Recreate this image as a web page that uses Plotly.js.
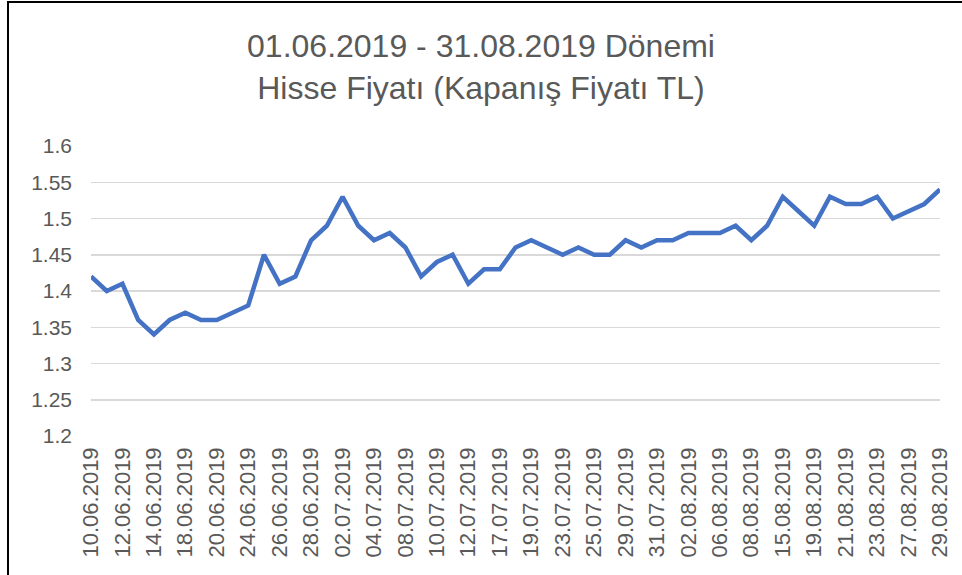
<!DOCTYPE html>
<html>
<head>
<meta charset="utf-8">
<script src="https://cdn.plot.ly/plotly-3.0.1.min.js"></script>
<style>
  html, body { margin: 0; padding: 0; background: #fff; }
  #wrap { position: relative; width: 962px; height: 575px; overflow: hidden; }
  #chart { position: absolute; left: 0; top: 0; width: 962px; height: 575px; }
  #frame { position: absolute; left: 7px; top: 1px; width: 970px; height: 600px;
           border-top: 2px solid #000; border-left: 2px solid #000; pointer-events: none; }
</style>
</head>
<body>
<div id="wrap">
  <div id="chart"></div>
  <div id="frame"></div>
</div>
<script>
const dates = [
  "10.06.2019","11.06.2019","12.06.2019","13.06.2019","14.06.2019","17.06.2019","18.06.2019","19.06.2019","20.06.2019","21.06.2019",
  "24.06.2019","25.06.2019","26.06.2019","27.06.2019","28.06.2019","01.07.2019","02.07.2019","03.07.2019","04.07.2019","05.07.2019",
  "08.07.2019","09.07.2019","10.07.2019","11.07.2019","12.07.2019","16.07.2019","17.07.2019","18.07.2019","19.07.2019","22.07.2019",
  "23.07.2019","24.07.2019","25.07.2019","26.07.2019","29.07.2019","30.07.2019","31.07.2019","01.08.2019","02.08.2019","05.08.2019",
  "06.08.2019","07.08.2019","08.08.2019","09.08.2019","15.08.2019","16.08.2019","19.08.2019","20.08.2019","21.08.2019","22.08.2019",
  "23.08.2019","26.08.2019","27.08.2019","28.08.2019","29.08.2019"
];
const closePrices = [
  1.42,1.40,1.41,1.36,1.34,1.36,1.37,1.36,1.36,1.37,
  1.38,1.45,1.41,1.42,1.47,1.49,1.53,1.49,1.47,1.48,
  1.46,1.42,1.44,1.45,1.41,1.43,1.43,1.46,1.47,1.46,
  1.45,1.46,1.45,1.45,1.47,1.46,1.47,1.47,1.48,1.48,
  1.48,1.49,1.47,1.49,1.53,1.51,1.49,1.53,1.52,1.52,
  1.53,1.50,1.51,1.52,1.54
];
const yTicks = [1.2,1.25,1.3,1.35,1.4,1.45,1.5,1.55,1.6];
const yTickText = ["1.2","1.25","1.3","1.35","1.4","1.45","1.5","1.55","1.6"];
const xTickLabels = dates.filter((d, i) => i % 2 === 0);

const titleText = "01.06.2019 - 31.08.2019 Dönemi<br>Hisse Fiyatı (Kapanış Fiyatı TL)";

const trace = {
  type: "scatter",
  mode: "lines",
  x: dates,
  y: closePrices,
  line: { color: "#4472C4", width: 4.5, shape: "linear" },
  hoverinfo: "x+y"
};

const layout = {
  width: 962,
  height: 575,
  margin: { l: 91, r: 22, t: 146, b: 139 },
  paper_bgcolor: "#ffffff",
  plot_bgcolor: "#ffffff",
  showlegend: false,
  title: {
    text: titleText,
    font: { family: "Liberation Sans, Arial, sans-serif", size: 32, color: "#595959" },
    x: 0.5,
    xanchor: "center",
    xref: "container",
    yref: "container",
    y: 1 - 57 / 575,
    yanchor: "top"
  },
  xaxis: {
    type: "category",
    tickmode: "array",
    tickvals: xTickLabels,
    ticktext: xTickLabels,
    tickangle: -90,
    tickfont: { family: "Liberation Sans, Arial, sans-serif", size: 22, color: "#595959" },
    showgrid: false,
    zeroline: false,
    showline: false,
    ticks: "",
    ticklabelstandoff: 6
  },
  yaxis: {
    range: [1.2, 1.6],
    tickmode: "array",
    tickvals: yTicks,
    ticktext: yTickText,
    tickfont: { family: "Liberation Sans, Arial, sans-serif", size: 21, color: "#595959" },
    showgrid: true,
    gridcolor: "#d9d9d9",
    gridwidth: 1.5,
    zeroline: false,
    showline: false,
    ticks: "",
    ticklabelstandoff: 18
  }
};

Plotly.newPlot("chart", [trace], layout, { displayModeBar: false, staticPlot: true });
</script>
</body>
</html>
